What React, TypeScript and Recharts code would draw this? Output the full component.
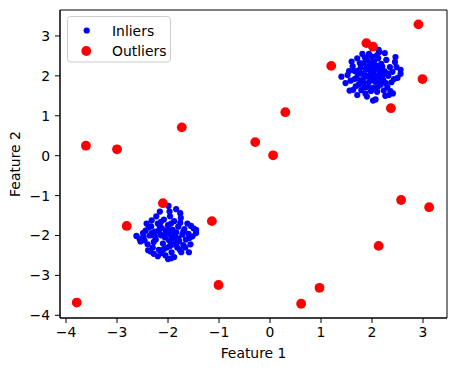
import React from "react";
import { ScatterChart, Scatter, XAxis, YAxis, Label, ReferenceArea } from "recharts";

// Inliers: cluster around (2, 2)
const inlierX1 = [1.40,1.48,1.56,1.60,1.71,1.81,2.00,2.13,2.25,2.46,2.56,2.56,2.43,2.41,2.23,2.07,2.02,1.87,1.71,1.63,1.84,2.20,
  1.52,1.58,1.66,1.70,1.74,1.78,1.80,1.82,1.85,1.88,1.90,1.92,1.94,1.96,1.98,2.00,2.02,2.04,2.05,2.06,2.08,2.10,2.12,2.14,2.15,2.17,2.18,2.22,2.24,2.28,2.30,2.32,2.35,2.38,2.40,2.48,
  1.76,1.68,1.62,1.86,1.94,2.10,1.98,1.90,2.26,2.36,2.50,1.72,1.88,2.00,2.11,2.20,1.83,1.96,2.03,1.79,2.14,1.55,2.45,2.33,1.92,1.77,2.06,1.99,2.16,2.27,
  1.66,1.74,2.08,2.30,1.90,2.12];
const inlierY1 = [1.98,1.82,1.63,2.36,2.44,2.55,2.48,2.65,2.57,2.47,2.15,2.05,1.92,1.56,1.63,1.41,1.38,1.56,1.52,1.65,2.32,2.23,
  2.02,1.88,2.12,1.95,1.78,2.20,2.05,1.90,1.72,2.15,2.40,1.98,1.84,2.28,2.10,1.92,1.70,2.36,2.02,1.85,2.18,1.60,2.44,1.95,2.08,1.78,2.30,1.90,2.12,2.40,1.72,2.00,2.22,1.84,2.10,2.22,
  2.32,1.74,2.24,2.46,2.55,2.52,1.62,1.48,1.50,1.62,1.95,2.06,2.00,2.20,1.72,2.00,1.82,2.00,2.12,1.64,2.60,2.12,2.35,1.52,1.72,1.88,1.96,2.34,2.16,1.82,
  1.92,2.14,2.26,2.06,2.22,1.88];

// Inliers: cluster around (-2, -2)
const inlierX2 = [-2.62,-2.54,-2.39,-2.28,-2.23,-2.16,-1.99,-1.84,-1.76,-1.55,-1.45,-1.45,-1.58,-1.59,-1.77,-1.94,-2.00,-2.13,-2.49,-2.33,
  -2.56,-2.46,-2.44,-2.40,-2.36,-2.32,-2.30,-2.26,-2.24,-2.20,-2.18,-2.15,-2.12,-2.10,-2.08,-2.06,-2.04,-2.02,-2.00,-1.98,-1.96,-1.95,-1.93,-1.91,-1.90,-1.88,-1.86,-1.84,-1.82,-1.80,-1.78,-1.75,-1.72,-1.70,-1.68,-1.65,-1.62,-1.60,-1.52,-1.50,
  -2.28,-2.14,-2.05,-1.97,-1.88,-1.74,-2.34,-2.20,-2.42,-1.66,-1.56,-2.38,-2.12,-1.94,-2.03,-1.83,-2.18,-1.92,-2.08,-1.76,-2.48,-1.98,-2.26,-1.70,
  -2.16,-1.86,-2.32,-1.96,-2.00,-1.80];
const inlierY2 = [-2.01,-2.15,-2.37,-2.46,-1.52,-1.40,-1.26,-1.34,-1.44,-1.76,-1.86,-1.94,-2.06,-2.42,-2.36,-2.57,-2.59,-2.44,-1.94,-1.77,
  -2.08,-2.12,-1.88,-2.22,-2.00,-1.62,-2.30,-1.90,-2.10,-1.70,-2.36,-1.98,-1.82,-2.20,-1.60,-2.05,-1.92,-2.30,-1.74,-2.12,-1.52,-1.98,-2.42,-1.86,-2.22,-1.64,-2.05,-1.92,-2.30,-1.78,-2.14,-1.56,-1.98,-2.24,-1.84,-2.10,-1.70,-1.96,-2.02,-1.82,
  -2.16,-1.66,-2.50,-1.40,-2.54,-2.42,-2.40,-2.52,-1.70,-2.30,-2.22,-1.80,-2.00,-1.70,-1.88,-2.18,-1.88,-2.08,-2.34,-1.68,-2.02,-1.94,-2.02,-1.90,
  -1.78,-2.00,-1.94,-2.26,-1.84,-2.08];

// Outliers
const outlierX = [2.91,1.89,2.02,1.20,2.99,2.37,0.30,-1.73,-3.61,-3.00,-0.29,0.06,2.57,3.12,-2.10,-1.14,-2.81,2.13,-1.01,0.97,0.61,-3.79];
const outlierY = [3.29,2.82,2.73,2.25,1.92,1.19,1.09,0.71,0.25,0.16,0.34,0.01,-1.11,-1.29,-1.19,-1.64,-1.76,-2.26,-3.24,-3.31,-3.71,-3.68];

const xTicks = [-4, -3, -2, -1, 0, 1, 2, 3];
const yTicks = [-4, -3, -2, -1, 0, 1, 2, 3];
const xDomain = [-4.118, 3.47];
const yDomain = [-4.067, 3.65];
const seriesNames = ["Inliers", "Outliers"];
const xTitle = "Feature 1";
const yTitle = "Feature 2";

const inliers = [
  ...inlierX1.map((x, i) => ({ x, y: inlierY1[i] })),
  ...inlierX2.map((x, i) => ({ x, y: inlierY2[i] })),
];
const outliers = outlierX.map((x, i) => ({ x, y: outlierY[i] }));

const FONT = "DejaVu Sans, sans-serif";
const fmt = (v: number) => (v < 0 ? "\u2212" + Math.abs(v) : String(v));

const Dot = (r: number, color: string) => (props: any) => (
  <circle cx={props.cx} cy={props.cy} r={r} fill={color} />
);

export default function App() {
  const tickStyle = { fontSize: 13.9, fill: "#000", fontFamily: FONT };
  return (
    <div style={{ position: "absolute", left: 0, top: 0, width: 457, height: 371, background: "#fff" }}>
      <ScatterChart width={457} height={371} margin={{ top: 10, right: 10, bottom: 8, left: 5 }}>
        <XAxis
          type="number"
          dataKey="x"
          domain={xDomain}
          ticks={xTicks}
          tickFormatter={fmt}
          allowDataOverflow
          height={45}
          tickSize={5}
          tickMargin={4}
          tick={tickStyle}
          stroke="#000"
          tickLine={{ stroke: "#000" }}
          axisLine={{ stroke: "#000" }}
        >
          <Label value={xTitle} position="insideBottom" offset={5} style={{ fontSize: 13.9, fill: "#000", fontFamily: FONT }} />
        </XAxis>
        <YAxis
          type="number"
          dataKey="y"
          domain={yDomain}
          ticks={yTicks}
          tickFormatter={fmt}
          allowDataOverflow
          width={55}
          tickSize={5}
          tickMargin={5}
          tick={tickStyle}
          stroke="#000"
          tickLine={{ stroke: "#000" }}
          axisLine={{ stroke: "#000" }}
        >
          <Label value={yTitle} angle={-90} position="insideLeft" offset={10} style={{ fontSize: 13.9, fill: "#000", fontFamily: FONT, textAnchor: "middle" }} />
        </YAxis>
        <ReferenceArea x1={xDomain[0]} x2={xDomain[1]} y1={yDomain[0]} y2={yDomain[1]} fill="none" fillOpacity={0} stroke="#000" strokeOpacity={1} ifOverflow="visible" />
        <Scatter name={seriesNames[0]} data={inliers} fill="#0000ff" shape={Dot(3.1, "#0000ff")} isAnimationActive={false} />
        <Scatter name={seriesNames[1]} data={outliers} fill="#ff0000" shape={Dot(4.9, "#ff0000")} isAnimationActive={false} />
      </ScatterChart>
      <svg width={110} height={50} style={{ position: "absolute", left: 67, top: 16 }}>
        <rect x={0.5} y={0.5} width={103} height={45.5} rx={3} ry={3} fill="#fff" fillOpacity={0.8} stroke="#cccccc" />
        <circle cx={19.7} cy={14.5} r={3.1} fill="#0000ff" />
        <text x={45} y={19.5} fontSize={13.9} fontFamily={FONT} fill="#000">{seriesNames[0]}</text>
        <circle cx={19.3} cy={35} r={4.9} fill="#ff0000" />
        <text x={45} y={40} fontSize={13.9} fontFamily={FONT} fill="#000">{seriesNames[1]}</text>
      </svg>
    </div>
  );
}
